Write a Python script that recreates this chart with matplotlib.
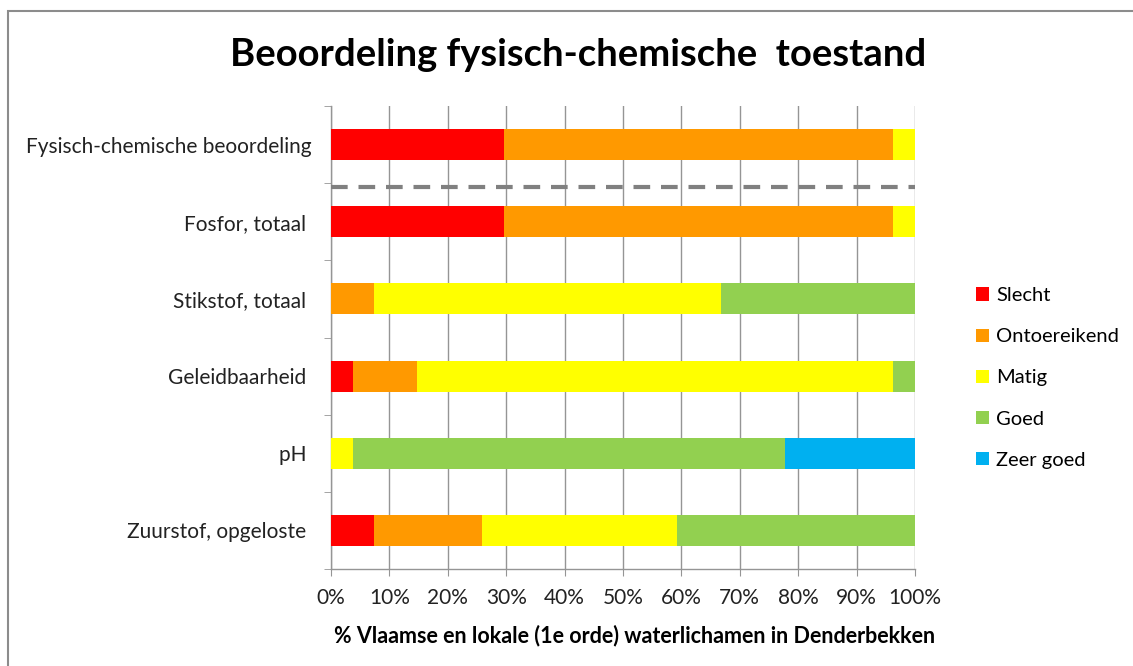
import numpy as np
import matplotlib
matplotlib.use('Agg')
import matplotlib.pyplot as plt
from matplotlib.patches import Rectangle

plt.rcParams['font.family'] = ['Lato', 'DejaVu Sans']

# data (% of 27 waterlichamen)
categories = ['Fysisch-chemische beoordeling', 'Fosfor, totaal ', 'Stikstof, totaal ',
              'Geleidbaarheid ', 'pH ', 'Zuurstof, opgeloste ']
slecht = [29.6, 29.6, 0, 3.7, 0, 7.4]
ontoereikend = [66.7, 66.7, 7.4, 11.1, 0, 18.5]
matig = [3.7, 3.7, 59.3, 81.5, 3.7, 33.3]
goed = [0, 0, 33.3, 3.7, 74.1, 40.8]
zeer_goed = [0, 0, 0, 0, 22.2, 0]

series = [('Slecht', slecht, '#FF0000'),
          ('Ontoereikend', ontoereikend, '#FF9900'),
          ('Matig', matig, '#FFFF00'),
          ('Goed', goed, '#92D050'),
          ('Zeer goed', zeer_goed, '#00B0F0')]

W, H = 1133, 666
fig = plt.figure(figsize=(W / 100, H / 100), dpi=100)
ax = fig.add_axes([331 / W, 1 - 569 / H, (915 - 331) / W, (569 - 106) / H])

y = np.arange(len(categories))
left = np.zeros(len(categories))
for name, vals, col in series:
    vals = np.array(vals)
    ax.barh(y, vals, left=left, height=0.4, color=col, label=name, zorder=3)
    left += vals

ax.set_xlim(0, 100)
ax.set_ylim(len(categories) - 0.5, -0.5)
ax.set_xticks(np.arange(0, 101, 10))
ax.set_xticklabels([f'{v}%' for v in range(0, 101, 10)])
ax.set_yticks(y)
ax.set_yticklabels(categories)
ax.set_yticks(np.arange(-0.5, len(categories), 1), minor=True)

gc = '#959595'
ax.grid(axis='x', color=gc, lw=1, zorder=0)
for s in ['top', 'right']:
    ax.spines[s].set_visible(False)
for s in ['left', 'bottom']:
    ax.spines[s].set_color(gc)
    ax.spines[s].set_linewidth(1)
ax.tick_params(axis='y', which='major', length=0, pad=14, labelsize=15, colors='#222222')
ax.tick_params(axis='y', which='minor', length=5, color=gc)
ax.tick_params(axis='x', length=5, color=gc, labelsize=15, labelcolor='#222222', pad=9)

# dashed separator
ax.plot([0, 100], [0.55, 0.55], color='#808080', lw=3, ls=(0, (4, 2.6)), zorder=4,
        clip_on=False)

ax.set_xlabel('% Vlaamse en lokale (1e orde) waterlichamen in Denderbekken',
              fontsize=15.5, fontweight='bold', labelpad=12)
ax.xaxis.set_label_coords(0.52, -0.12)

fig.text(578 / W, 1 - 55 / H, 'Beoordeling fysisch-chemische  toestand',
         fontsize=27.5, fontweight='bold', ha='center', va='center')

ax.legend(loc='center left', bbox_to_anchor=(958 / W, 1 - 378 / H),
          bbox_transform=fig.transFigure, frameon=False, fontsize=14.5,
          handlelength=0.65, handleheight=0.65, handletextpad=0.35, labelspacing=1.2)

fig.patches.append(Rectangle((8 / W, -0.1), 1.2, 1 - 11 / H + 0.1,
                             transform=fig.transFigure, fill=False,
                             edgecolor='#8c8c8c', lw=1.5))

fig.savefig('out.png', dpi=100)
